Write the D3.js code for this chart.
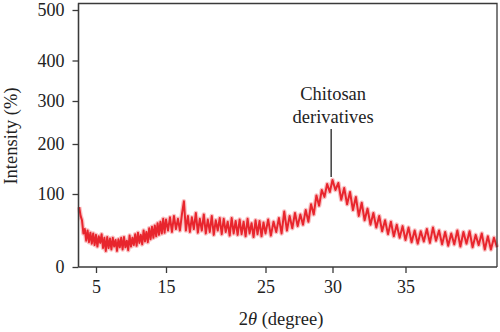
<!DOCTYPE html>
<html>
<head>
<meta charset="utf-8">
<script src="https://cdn.jsdelivr.net/npm/d3@7"></script>
<style>
  html, body { margin: 0; padding: 0; background: #fff; }
  svg { display: block; }
</style>
</head>
<body>
<svg id="chart" width="500" height="332"></svg>
<script>
// ---- data ----
const xTickValues = [5, 15, 25, 30, 35];
const yTickValues = [0, 100, 200, 300, 400, 500];
// axis breakpoints as printed (axis is not uniformly spaced)
const xBreaks = [2.5, 5, 15, 25, 30, 35, 41.0];
const yBreaks = [0, 100, 200, 300, 400, 500];
const thetaStart = 2.6, thetaStep = 0.2;
const intensity = [
  82, 70, 64, 46, 52, 36, 50, 34, 47, 32,
  46, 30, 44, 28, 42, 33, 45, 26, 40, 22,
  41, 26, 39, 24, 40, 28, 37, 22, 38, 27,
  40, 24, 41, 27, 36, 23, 43, 28, 40, 30,
  45, 29, 47, 33, 44, 31, 50, 35, 48, 34,
  53, 38, 55, 40, 57, 42, 60, 44, 62, 46,
  66, 47, 65, 50, 68, 48, 70, 52, 66, 50,
  72, 90, 50, 70, 48, 68, 52, 74, 47, 66,
  50, 72, 46, 65, 48, 70, 44, 64, 50, 67,
  45, 66, 48, 62, 43, 67, 46, 63, 44, 65,
  45, 62, 42, 66, 46, 60, 41, 64, 45, 63,
  42, 61, 46, 65, 43, 62, 48, 67, 46, 76,
  50, 70, 53, 74, 56, 72, 58, 78, 62, 86,
  72, 98, 84, 108, 96, 120, 104, 128, 108, 122,
  92, 112, 86, 104, 78, 96, 70, 88, 64, 80,
  58, 74, 54, 70, 49, 64, 45, 62, 42, 58,
  40, 56, 37, 54, 34, 50, 32, 49, 35, 52,
  33, 54, 36, 50, 31, 48, 29, 46, 31, 50,
  28, 48, 32, 49, 27, 44, 30, 46, 24, 42,
  24, 40, 27
];
const annotationLines = ["Chitosan", "derivatives"];
const annotationAt = 29.9;
const xTitle = "(degree)";
const yTitle = "Intensity (%)";

// ---- layout ----
const FONT = '"Liberation Serif", "Times New Roman", serif';
const svg = d3.select("#chart");
const pLeft = 78.5, pRight = 497, pTop = 3.5, pBottom = 267;

const x = d3.scaleLinear()
  .domain(xBreaks)
  .range([pLeft, 96, 166, 265.5, 332.5, 405.5, pRight]);
const y = d3.scaleLinear()
  .domain(yBreaks)
  .range([pBottom, 194, 144, 101, 60.5, 10]);

const data = intensity.map((v, i) => ({ t: thetaStart + i * thetaStep, v }));

// trace (soft halo + core stroke, like the scanned original)
const line = d3.line().x(d => x(d.t)).y(d => y(d.v));
svg.append("path")
  .datum(data)
  .attr("d", line)
  .attr("fill", "none")
  .attr("stroke", "#ee4a50")
  .attr("stroke-width", 4.5)
  .attr("stroke-linejoin", "round")
  .attr("opacity", 0.35);
svg.append("path")
  .datum(data)
  .attr("d", line)
  .attr("fill", "none")
  .attr("stroke", "#e8252d")
  .attr("stroke-width", 2)
  .attr("stroke-linejoin", "round");

// frame
const frameColor = "#3a3a3a";
svg.append("path")
  .attr("d", `M${pLeft},${pBottom}V${pTop}H${pRight}V${pBottom}`)
  .attr("fill", "none").attr("stroke", frameColor).attr("stroke-width", 1.3);

// axes
const xAxis = svg.append("g")
  .attr("transform", `translate(0,${pBottom})`)
  .call(d3.axisBottom(x).tickValues(xTickValues).tickSize(6).tickPadding(7).tickFormat(d3.format("d")));
const yAxis = svg.append("g")
  .attr("transform", `translate(${pLeft},0)`)
  .call(d3.axisLeft(y).tickValues(yTickValues).tickSize(6).tickPadding(8).tickFormat(d3.format("d")));

[xAxis, yAxis].forEach(g => {
  g.select(".domain").attr("stroke", frameColor).attr("stroke-width", 1.3);
  g.selectAll(".tick line").attr("stroke", frameColor).attr("stroke-width", 1.3);
  g.selectAll(".tick text")
    .attr("fill", "#222")
    .style("font-family", FONT)
    .style("font-size", "18px");
});
xAxis.select(".domain").attr("d", `M${pLeft},0H${pRight}`);
yAxis.select(".domain").attr("d", `M0,${pBottom}V${pTop}`);

// axis titles
const xt = svg.append("text")
  .attr("x", 281).attr("y", 325)
  .attr("text-anchor", "middle")
  .attr("fill", "#222")
  .style("font-family", FONT)
  .style("font-size", "18.5px");
xt.append("tspan").text("2");
xt.append("tspan").style("font-style", "italic").text("θ");
xt.append("tspan").text(" " + xTitle);

svg.append("text")
  .attr("transform", "translate(17,136) rotate(-90)")
  .attr("text-anchor", "middle")
  .attr("fill", "#222")
  .style("font-family", FONT)
  .style("font-size", "18.5px")
  .text(yTitle);

// annotation
const ax = x(annotationAt);
svg.append("line")
  .attr("x1", ax).attr("x2", ax)
  .attr("y1", 129).attr("y2", 177)
  .attr("stroke", "#222").attr("stroke-width", 1.3);
svg.selectAll("text.anno")
  .data(annotationLines)
  .enter().append("text")
  .attr("class", "anno")
  .attr("x", ax + 2)
  .attr("y", (d, i) => 100 + i * 23)
  .attr("text-anchor", "middle")
  .attr("fill", "#222")
  .style("font-family", FONT)
  .style("font-size", "18.5px")
  .text(d => d);
</script>
</body>
</html>
